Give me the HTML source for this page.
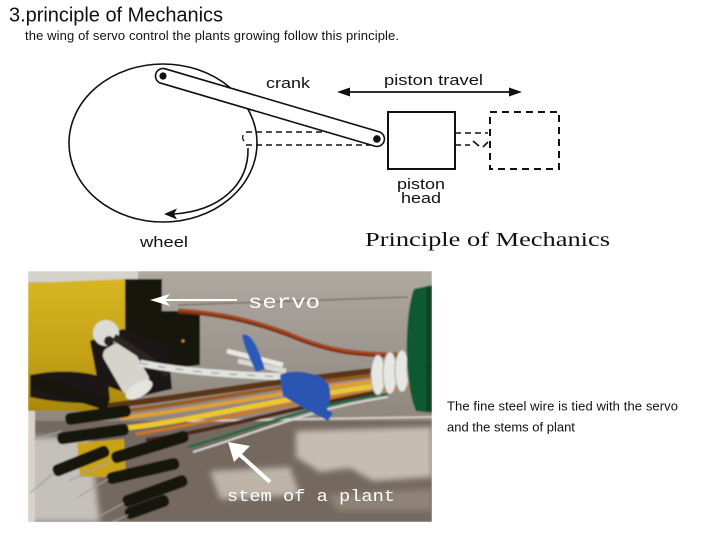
<!DOCTYPE html>
<html><head><meta charset="utf-8"><style>
html,body{margin:0;padding:0;background:#fff;}
body{width:702px;height:540px;overflow:hidden;position:relative;}
svg{position:absolute;left:0;top:0;}
</style></head><body>
<svg width="702" height="540" viewBox="0 0 702 540" xmlns="http://www.w3.org/2000/svg">
<defs>
<clipPath id="pc"><rect x="0" y="0" width="404" height="251"/></clipPath>
<linearGradient id="bgU" x1="0" y1="0" x2="0" y2="1"><stop offset="0" stop-color="#aea8a0"/><stop offset="1" stop-color="#8f877e"/></linearGradient>
<linearGradient id="yel" x1="0" y1="0" x2="0" y2="1"><stop offset="0" stop-color="#d6b623"/><stop offset="0.6" stop-color="#c4a015"/><stop offset="1" stop-color="#a8870e"/></linearGradient>
<filter id="bl" x="-20%" y="-20%" width="140%" height="140%"><feGaussianBlur stdDeviation="3"/></filter>
<filter id="bs" x="-10%" y="-10%" width="120%" height="120%"><feGaussianBlur stdDeviation="0.8"/></filter>
</defs>

<!-- Header text -->
<text x="9" y="21.5" font-family="Liberation Sans, Arial, sans-serif" font-size="20" fill="#111" textLength="214">3.principle of Mechanics</text>
<text x="25" y="40" font-family="Liberation Sans, Arial, sans-serif" font-size="13" fill="#111" textLength="374">the wing of servo control the plants growing follow this principle.</text>

<!-- Diagram -->
<g fill="none" stroke="#111" stroke-width="1.6">
<ellipse cx="163" cy="143" rx="94" ry="79"/>
<line x1="246" y1="132" x2="380" y2="132" stroke-dasharray="6 4"/>
<line x1="246" y1="145" x2="385" y2="145" stroke-dasharray="6 4"/>
<path d="M243,135 Q242,139 244,141" stroke-width="1.3"/>
<path d="M248,148 C249,186 218,211 174,214"/>
</g>
<polygon points="164,214 177,208.5 174,214 177,219.5" fill="#111"/>
<g transform="translate(163,76) rotate(16.4)">
<rect x="-7.5" y="-7.5" width="238" height="15" rx="7.5" fill="#fff" stroke="#111" stroke-width="1.6"/>
<circle cx="0" cy="0" r="3.6" fill="#111"/>
<circle cx="223" cy="0" r="3.8" fill="#111"/>
</g>
<rect x="388" y="112" width="67" height="57" fill="#fff" stroke="#111" stroke-width="2"/>
<rect x="490" y="112" width="69" height="57" fill="none" stroke="#111" stroke-width="2" stroke-dasharray="7 5"/>
<g fill="none" stroke="#111" stroke-width="1.6">
<path d="M455,133 H488" stroke-dasharray="6 4"/>
<path d="M455,145 H470" stroke-dasharray="6 4"/>
<path d="M473,141 L479,146 M483,147 L488,142"/>
</g>
<line x1="345" y1="92" x2="514" y2="92" stroke="#111" stroke-width="1.8"/>
<polygon points="337,92 350,87.5 350,96.5" fill="#111"/>
<polygon points="522,92 509,87.5 509,96.5" fill="#111"/>

<g font-family="Liberation Sans, Arial, sans-serif" font-size="15" fill="#111" lengthAdjust="spacingAndGlyphs">
<text x="266" y="88" textLength="44" lengthAdjust="spacingAndGlyphs">crank</text>
<text x="384" y="85" textLength="99" lengthAdjust="spacingAndGlyphs">piston travel</text>
<text x="397" y="189" textLength="48" lengthAdjust="spacingAndGlyphs">piston</text>
<text x="401" y="203" textLength="40" lengthAdjust="spacingAndGlyphs">head</text>
<text x="140" y="247" textLength="48" lengthAdjust="spacingAndGlyphs">wheel</text>
</g>
<text x="365" y="246" font-family="Liberation Serif, serif" font-size="20" fill="#111" textLength="245" lengthAdjust="spacingAndGlyphs">Principle of Mechanics</text>

<!-- Photo -->
<g transform="translate(28,271)" clip-path="url(#pc)">
<g filter="url(#bs)">
<rect width="404" height="251" fill="#75695f"/>
<rect width="404" height="150" fill="url(#bgU)"/>
<rect width="110" height="11" fill="#d6d2cc"/>
<g filter="url(#bl)">
<path d="M268,160 L404,156 L404,206 L345,210 L322,197 L292,201 L268,186 Z" fill="#c6bdb2"/>
<path d="M182,200 L262,196 L272,224 L192,228 Z" fill="#bdb3a7"/>
<path d="M300,224 L404,218 L404,240 L310,240 Z" fill="#8f8378"/>
<path d="M0,166 L62,166 L72,251 L0,251 Z" fill="#c4c0ba"/>
</g>
<line x1="160" y1="150" x2="404" y2="146" stroke="#d2cdc6" stroke-width="2"/>
<line x1="150" y1="34" x2="380" y2="26" stroke="#5e5a55" stroke-width="1"/>
<rect x="0" y="134" width="7" height="117" fill="#d8d4cc"/>
<!-- yellow plate -->
<path d="M0,12 L98,8 L98,96 L106,128 L92,140 L0,140 Z" fill="url(#yel)"/>
<path d="M49,172 L96,168 L98,206 L52,206 Z" fill="#c9a418"/>
<path d="M2,104 C30,98 60,100 80,108 L82,130 C60,134 30,132 2,126 Z" fill="#1c1814"/>
<!-- servo -->
<path d="M97,8 L134,8 L134,40 L172,40 L172,94 L140,98 L120,82 L97,62 Z" fill="#171311"/>
<path d="M62,70 L95,58 L140,75 L144,118 L110,126 L70,112 Z" fill="#1a1614"/>
<circle cx="155" cy="70" r="1.5" fill="#c89020"/>
<!-- spacer -->
<g transform="translate(99,98) rotate(-30)">
<rect x="-15" y="-28" width="30" height="52" rx="8" fill="#d4d4cc"/>
<ellipse cx="0" cy="24" rx="15" ry="7" fill="#e4e4de"/>
</g>
<circle cx="78" cy="62" r="13" fill="#dcdcd6"/>
<circle cx="81" cy="70" r="5" fill="#222"/>
<path d="M86,66 L120,88 L140,104" stroke="#2a2624" stroke-width="7" fill="none"/>
<!-- red wire -->
<path d="M150,40 C190,42 225,50 262,64 C295,78 320,84 372,84" fill="none" stroke="#7a2e10" stroke-width="5"/>
<path d="M150,39 C190,41 225,49 262,63 C295,77 320,83 372,83" fill="none" stroke="#b04a1c" stroke-width="2"/>
<!-- white twisted wire -->
<path d="M112,92 C150,100 200,104 262,106" fill="none" stroke="#e2e2de" stroke-width="7"/>
<path d="M112,92 C150,100 200,104 262,106" fill="none" stroke="#a8a8a4" stroke-width="1.5" stroke-dasharray="8 10"/>
<path d="M199,80 L255,94" stroke="#e6e6e2" stroke-width="5" fill="none"/>
<path d="M210,90 L258,100" stroke="#d8d8d4" stroke-width="5" fill="none"/>
<!-- wire bundle -->
<g fill="none">
<path d="M70,136 C150,128 250,108 404,94" stroke="#5a3418" stroke-width="6"/>
<path d="M80,142 C170,132 260,112 404,98" stroke="#9a5a20" stroke-width="4"/>
<path d="M92,147 C180,138 260,118 404,104" stroke="#e0a030" stroke-width="4"/>
<path d="M98,157 C180,148 250,125 404,108" stroke="#f0c828" stroke-width="5"/>
<path d="M108,163 C190,151 260,128 404,114" stroke="#d07818" stroke-width="3"/>
<path d="M118,169 C190,159 250,140 350,121" stroke="#4a2a14" stroke-width="4"/>
<path d="M160,176 C220,160 280,134 360,123" stroke="#0e6a44" stroke-width="2.5"/>
<path d="M165,181 C225,163 285,137 360,126" stroke="#d6d6d2" stroke-width="2"/>
</g>
<!-- blue ties -->
<path d="M252,104 C262,98 290,100 300,112 C305,125 302,138 292,146 C282,140 266,132 255,125 Z" fill="#2a54b0"/>
<path d="M292,134 L305,142 L300,150 L290,144 Z" fill="#2a54b0"/>
<path d="M214,64 C224,60 231,80 237,98 L228,101 C222,88 216,76 214,64 Z" fill="#2a5ab8"/>
<!-- white coil -->
<g fill="#e6e6e2" stroke="#a4a4a0" stroke-width="1">
<ellipse cx="350" cy="104" rx="7" ry="20"/>
<ellipse cx="362" cy="102" rx="7" ry="21"/>
<ellipse cx="374" cy="100" rx="7" ry="21"/>
<ellipse cx="386" cy="98" rx="7" ry="20"/>
</g>
<!-- green cylinder -->
<path d="M386,18 C377,40 375,110 388,140 L404,142 L404,14 Z" fill="#0c5a32"/>
<path d="M398,16 L404,16 L404,140 L398,140 Z" fill="#084424"/>
<!-- black pins -->
<g fill="#141210">
<rect x="-40" y="-6" width="80" height="12" rx="5" transform="translate(42,122) rotate(17)"/>
<rect x="-33" y="-6" width="66" height="12" rx="5" transform="translate(70,144) rotate(-8)"/>
<rect x="-36" y="-6" width="72" height="12" rx="5" transform="translate(65,163) rotate(-8)"/>
<rect x="-30" y="-6" width="60" height="12" rx="5" transform="translate(53,190) rotate(-22)"/>
<rect x="-40" y="-6" width="80" height="12" rx="5" transform="translate(122,176) rotate(-17)"/>
<rect x="-37" y="-6" width="74" height="12" rx="5" transform="translate(115,200) rotate(-13)"/>
<rect x="-34" y="-6" width="68" height="12" rx="5" transform="translate(127,220) rotate(-20)"/>
<rect x="-23" y="-6" width="46" height="12" rx="5" transform="translate(119,236) rotate(-20)"/>
</g>
<g stroke="#a09e9a" stroke-width="1.2">
<line x1="26" y1="202" x2="2" y2="222"/>
<line x1="84" y1="190" x2="40" y2="210"/>
<line x1="80" y1="208" x2="50" y2="226"/>
<line x1="96" y1="232" x2="70" y2="246"/>
<line x1="100" y1="244" x2="84" y2="251"/>
<line x1="34" y1="160" x2="6" y2="168"/>
</g>
</g>
<!-- annotations -->
<line x1="134" y1="29" x2="209" y2="29" stroke="#fff" stroke-width="2"/>
<polygon points="122,29 142,23 137,29 142,35" fill="#fff"/>
<text x="220" y="37" font-family="Liberation Mono, monospace" font-size="19" fill="#fff" textLength="72" lengthAdjust="spacingAndGlyphs">servo</text>
<line x1="242" y1="211" x2="210" y2="182" stroke="#fff" stroke-width="4"/>
<polygon points="200,171 222,175 206,191" fill="#fff"/>
<text x="199" y="230" font-family="Liberation Mono, monospace" font-size="17" fill="#fff" textLength="168" lengthAdjust="spacingAndGlyphs">stem of a plant</text>
</g>

<!-- Right caption -->
<text x="447" y="410.5" font-family="Liberation Sans, Arial, sans-serif" font-size="13" fill="#111" textLength="231">The fine steel wire is tied with the servo</text>
<text x="447" y="431.5" font-family="Liberation Sans, Arial, sans-serif" font-size="13" fill="#111">and the stems of plant</text>
</svg>
</body></html>
